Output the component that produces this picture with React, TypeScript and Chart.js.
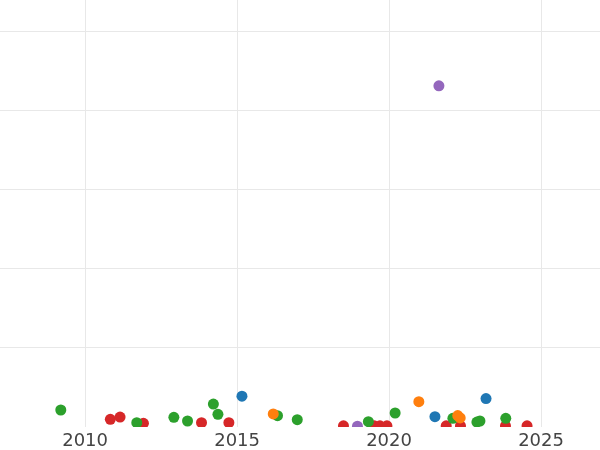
import React, { useEffect, useRef } from "react";
import { Chart, registerables } from "chart.js";

Chart.register(...registerables);

const xTicks = [2010, 2015, 2020, 2025];
const yTicks = [1, 2, 3, 4, 5];

const blueX = [2015.16, 2021.51, 2023.19];
const blueY = [0.39, 0.13, 0.36];

const orangeX = [2016.19, 2020.98, 2022.26, 2022.34];
const orangeY = [0.165, 0.32, 0.145, 0.115];

const greenX = [2009.2, 2011.7, 2012.92, 2013.37, 2014.22, 2014.37, 2016.33, 2016.98, 2019.32, 2020.2, 2022.1, 2022.89, 2022.99, 2023.84];
const greenY = [0.215, 0.054, 0.122, 0.076, 0.29, 0.16, 0.143, 0.092, 0.067, 0.177, 0.11, 0.063, 0.076, 0.11];

const redX = [2010.83, 2011.15, 2011.92, 2013.83, 2014.73, 2018.5, 2019.51, 2019.7, 2019.93, 2021.88, 2022.35, 2023.83, 2024.54];
const redY = [0.097, 0.126, 0.047, 0.054, 0.054, 0.015, 0.015, 0.015, 0.015, 0.015, 0.015, 0.015, 0.015];

const purpleX = [2021.64, 2018.96];
const purpleY = [4.314, 0.01];

const toPts = (xs: number[], ys: number[]) => xs.map((x, i) => ({ x, y: ys[i] }));

export default function App() {
  const ref = useRef<HTMLCanvasElement | null>(null);
  useEffect(() => {
    if (!ref.current) return;
    const mk = (label: string, xs: number[], ys: number[], color: string) => ({
      label,
      data: toPts(xs, ys),
      backgroundColor: color,
      borderWidth: 0,
      pointRadius: 5.5,
      pointHoverRadius: 5.5,
      clip: 0,
    });
    const chart = new Chart(ref.current, {
      type: "scatter",
      data: {
        datasets: [
          mk("blue", blueX, blueY, "#1f77b4"),
          mk("orange", orangeX, orangeY, "#ff7f0e"),
          mk("green", greenX, greenY, "#2ca02c"),
          mk("red", redX, redY, "#d62728"),
          mk("purple", purpleX, purpleY, "#9467bd"),
        ] as any,
      },
      options: {
        animation: false,
        responsive: true,
        maintainAspectRatio: false,
        layout: { padding: 0, autoPadding: false },
        plugins: { legend: { display: false }, tooltip: { enabled: false } },
        scales: {
          x: {
            type: "linear",
            min: 2007.2,
            max: 2026.94,
            border: { display: false },
            grid: { color: "#e8e8e8", lineWidth: 1, drawTicks: false },
            afterBuildTicks: (s: any) => {
              s.ticks = xTicks.map((v) => ({ value: v }));
            },
            afterFit: (s: any) => {
              s.height = 23;
            },
            ticks: {
              padding: 4,
              color: "#444444",
              font: { family: "DejaVu Sans", size: 18 },
              callback: (v: any) => String(v),
              maxRotation: 0,
              autoSkip: false,
            },
          },
          y: {
            type: "linear",
            min: 0,
            max: 5.4,
            border: { display: false },
            grid: { color: "#e8e8e8", lineWidth: 1, drawTicks: false },
            afterBuildTicks: (s: any) => {
              s.ticks = yTicks.map((v) => ({ value: v }));
            },
            afterFit: (s: any) => {
              s.width = 0;
            },
            ticks: { display: false },
          },
        },
      },
    });
    return () => chart.destroy();
  }, []);
  return (
    <div style={{ position: "fixed", left: 0, top: 0, width: 600, height: 450 }}>
      <canvas ref={ref} />
    </div>
  );
}
